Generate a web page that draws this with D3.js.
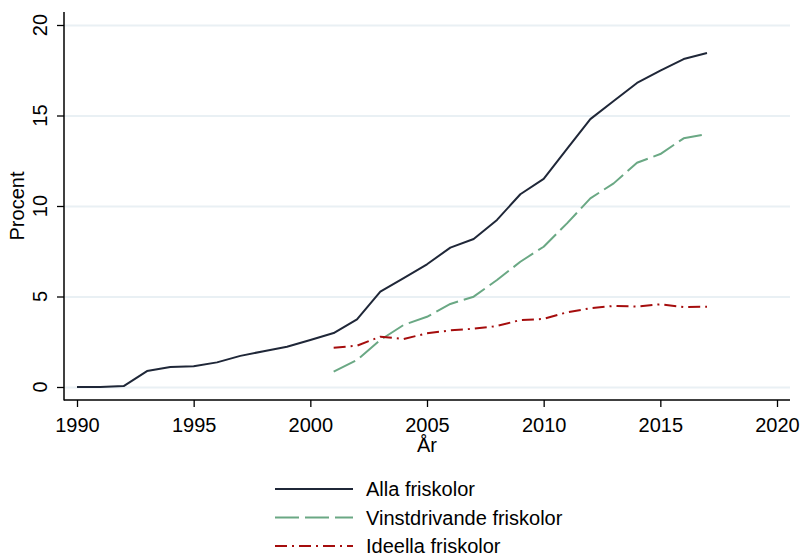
<!DOCTYPE html>
<html>
<head>
<meta charset="utf-8">
<script src="https://cdn.jsdelivr.net/npm/d3@7"></script>
<style>
  body { margin: 0; background: #fff; }
  text { font-family: "Liberation Sans", Arial, sans-serif; fill: #000; }
</style>
</head>
<body>
<div id="chart"></div>
<script>
// data
var years = [1990, 1991, 1992, 1993, 1994, 1995, 1996, 1997, 1998, 1999, 2000,
  2001, 2002, 2003, 2004, 2005, 2006, 2007, 2008, 2009, 2010,
  2011, 2012, 2013, 2014, 2015, 2016, 2017];
var alla = [0, 0, 0.05, 0.88, 1.1, 1.15, 1.36, 1.72, 1.98, 2.22, 2.6,
  2.98, 3.74, 5.27, 6.02, 6.78, 7.7, 8.18, 9.23, 10.65, 11.5,
  13.15, 14.8, 15.8, 16.8, 17.48, 18.12, 18.45];
// the two sub-series start in 2001
var vinst = [null, null, null, null, null, null, null, null, null, null, null,
  0.85, 1.49, 2.6, 3.43, 3.88, 4.59, 4.99, 5.91, 6.92, 7.75,
  9.04, 10.42, 11.25, 12.39, 12.87, 13.74, 13.98];
var ideella = [null, null, null, null, null, null, null, null, null, null, null,
  2.17, 2.28, 2.78, 2.65, 2.97, 3.13, 3.22, 3.37, 3.7, 3.76,
  4.13, 4.35, 4.48, 4.44, 4.57, 4.42, 4.44];
var seriesNames = ["Alla friskolor", "Vinstdrivande friskolor", "Ideella friskolor"];
var xTicks = [1990, 1995, 2000, 2005, 2010, 2015, 2020];
var yTicks = [0, 5, 10, 15, 20];

const width = 801;
const height = 557;

// plot region (axis lines), data range sits a bit inside it
const box = { left: 64, right: 790, top: 12, bottom: 400 };

const styles = [
  { color: "#1f2738", dash: null },
  { color: "#6aa884", dash: "24,6" },
  { color: "#a50d0d", dash: "12,5,2,5" }
];

const svg = d3.select("#chart")
  .append("svg")
  .attr("width", width)
  .attr("height", height);

const x = d3.scaleLinear().domain([1990, 2020]).range([77, 777]);
const y = d3.scaleLinear().domain([0, 20]).range([387, 25]);

// grid lines
svg.append("g")
  .attr("transform", `translate(${box.left},0)`)
  .call(d3.axisLeft(y).tickValues(yTicks).tickSize(-(box.right - box.left)).tickFormat(""))
  .call(g => g.select(".domain").remove())
  .selectAll("line")
  .attr("stroke", "#e9f0f4")
  .attr("stroke-width", 2);

// y axis
const yAxis = svg.append("g")
  .attr("transform", `translate(${box.left},0)`)
  .call(d3.axisLeft(y).tickValues(yTicks).tickSize(7).tickFormat(""));
yAxis.select(".domain").remove();
yAxis.selectAll("line").attr("stroke", "#000").attr("stroke-width", 1.3);

svg.append("g").selectAll("text")
  .data(yTicks)
  .enter().append("text")
  .attr("transform", d => `translate(47,${y(d)}) rotate(-90)`)
  .attr("text-anchor", "middle")
  .style("font-size", "20px")
  .text(d => d);

// x axis
const xAxis = svg.append("g")
  .attr("transform", `translate(0,${box.bottom})`)
  .call(d3.axisBottom(x).tickValues(xTicks).tickSize(7).tickFormat(d3.format("d")));
xAxis.select(".domain").remove();
xAxis.selectAll("line").attr("stroke", "#000").attr("stroke-width", 1.3);
xAxis.selectAll("text")
  .attr("y", 32)
  .attr("dy", null)
  .style("font-size", "20px")
  .style("font-family", "'Liberation Sans', Arial, sans-serif")
  .attr("fill", "#000");

// axis lines
svg.append("line")
  .attr("x1", box.left).attr("x2", box.left)
  .attr("y1", box.top).attr("y2", box.bottom + 0.5)
  .attr("stroke", "#000").attr("stroke-width", 1.5);
svg.append("line")
  .attr("x1", box.left).attr("x2", box.right)
  .attr("y1", box.bottom).attr("y2", box.bottom)
  .attr("stroke", "#000").attr("stroke-width", 1.5);

// axis titles
svg.append("text")
  .attr("x", (x(1990) + x(2020)) / 2)
  .attr("y", 452)
  .attr("text-anchor", "middle")
  .style("font-size", "20px")
  .text("År");

svg.append("text")
  .attr("transform", `translate(24,${(y(0) + y(20)) / 2}) rotate(-90)`)
  .attr("text-anchor", "middle")
  .style("font-size", "20px")
  .text("Procent");

// lines
const line = d3.line()
  .defined(d => d[1] != null)
  .x(d => x(d[0]))
  .y(d => y(d[1]));

[alla, vinst, ideella].forEach(function (vals, i) {
  const pts = years.map((yr, j) => [yr, vals[j]]);
  svg.append("path")
    .datum(pts)
    .attr("d", line)
    .attr("fill", "none")
    .attr("stroke", styles[i].color)
    .attr("stroke-width", 2)
    .attr("stroke-linejoin", "round")
    .attr("stroke-dasharray", styles[i].dash);
});

// legend
var legendG = svg.selectAll(".legend")
  .data(seriesNames)
  .enter().append("g")
  .attr("class", "legend")
  .attr("transform", (d, i) => `translate(275,${489 + i * 28.5})`);

legendG.append("line")
  .attr("x1", 0).attr("x2", 78)
  .attr("y1", 0).attr("y2", 0)
  .attr("stroke", (d, i) => styles[i].color)
  .attr("stroke-width", 2)
  .attr("stroke-dasharray", (d, i) => styles[i].dash);

legendG.append("text")
  .attr("x", 91)
  .attr("y", 7)
  .style("font-size", "20px")
  .text(d => d);
</script>
</body>
</html>
